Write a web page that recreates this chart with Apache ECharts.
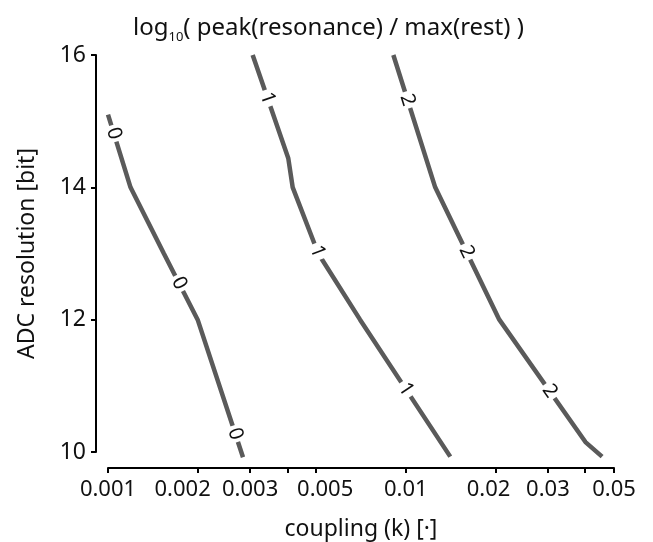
<!DOCTYPE html>
<html>
<head>
<meta charset="utf-8">
<script src="https://cdn.jsdelivr.net/npm/echarts@6/dist/echarts.min.js"></script>
<style>
html, body { margin: 0; padding: 0; background: #fff; }
#chart { width: 653px; height: 542px; }
</style>
</head>
<body>
<div id="chart"></div>
<script>
// contour levels of log10( peak(resonance) / max(rest) )
const levels = ['0', '1', '2'];
// contour vertices: [coupling k, ADC resolution bits]
const contour0 = [[0.001, 15.1], [0.00119, 14], [0.00154, 13], [0.002, 12], [0.00284, 9.92]];
const contour1 = [[0.00306, 16], [0.00403, 14.44], [0.00417, 14], [0.00508, 13], [0.00702, 12], [0.0141, 9.93]];
const contour2 = [[0.00908, 16], [0.01255, 14], [0.0206, 12], [0.0401, 10.15], [0.0456, 9.93]];
// where the inline level labels sit
const labels0 = [[0.00104, 14.81], [0.00177, 12.57], [0.0027, 10.28]];
const labels1 = [[0.00345, 15.35], [0.00505, 13.03], [0.00995, 10.94]];
const labels2 = [[0.0101, 15.32], [0.0161, 13.03], [0.0298, 10.89]];
// axis ticks
const xTicks = [0.001, 0.002, 0.003, 0.004, 0.005, 0.01, 0.02, 0.03, 0.04, 0.05];
const xTickLabels = [0.001, 0.002, 0.003, 0.005, 0.01, 0.02, 0.03, 0.05];

const FONT = '"Noto Sans", sans-serif';
const LINE = '#5a5a5a';
const chart = echarts.init(document.getElementById('chart'));

const contours = [contour0, contour1, contour2];
const labelSets = [labels0, labels1, labels2];

// a few x labels are nudged sideways in the original so they don't collide
function xLabel(v) {
    const s = String(+(+v).toPrecision(3));
    if (s === '0.002') return '{l15|' + s + '}';
    if (s === '0.005') return '{r9|' + s + '}';
    if (s === '0.02') return '{l7|' + s + '}';
    return s;
}

chart.setOption({
    animation: false,
    title: {
        text: '{a|log}{s|10}{a|( peak(resonance) / max(rest) )}',
        left: 128,
        top: 7,
        textStyle: {
            fontWeight: 'normal',
            rich: {
                a: { fontSize: 24, fontFamily: FONT, fontWeight: 'normal', color: '#111', lineHeight: 32 },
                s: { fontSize: 13, fontFamily: FONT, fontWeight: 'normal', color: '#111', lineHeight: 12, verticalAlign: 'bottom' }
            }
        }
    },
    grid: { left: 108, right: 39, top: 55, bottom: 90, containLabel: false, outerBoundsMode: 'none' },
    xAxis: {
        type: 'log',
        logBase: 10,
        min: 0.001,
        max: 0.05,
        offset: 16,
        name: 'coupling (k) [·]',
        nameLocation: 'middle',
        nameGap: 50,
        nameTextStyle: { fontSize: 23, fontFamily: FONT, color: '#111' },
        axisLine: { show: true, lineStyle: { color: '#000', width: 2 } },
        axisTick: { show: true, length: 5, lineStyle: { color: '#000', width: 2 }, customValues: xTicks },
        axisLabel: {
            customValues: xTickLabels,
            fontSize: 22, fontFamily: FONT, color: '#111', margin: 11,
            formatter: xLabel,
            rich: {
                l15: { fontSize: 22, fontFamily: FONT, color: '#111', padding: [0, 30, 0, 0] },
                r9: { fontSize: 22, fontFamily: FONT, color: '#111', padding: [0, 0, 0, 18] },
                l7: { fontSize: 22, fontFamily: FONT, color: '#111', padding: [0, 14, 0, 0] }
            }
        },
        splitLine: { show: false },
        minorTick: { show: false }
    },
    yAxis: {
        type: 'value',
        min: 10,
        max: 16,
        interval: 2,
        offset: 12,
        name: 'ADC resolution [bit]',
        nameLocation: 'middle',
        nameGap: 57,
        nameTextStyle: { fontSize: 23, fontFamily: FONT, color: '#111' },
        axisLine: { show: true, lineStyle: { color: '#000', width: 2 } },
        axisTick: { show: true, length: 5, lineStyle: { color: '#000', width: 2 } },
        axisLabel: { fontSize: 23, fontFamily: FONT, color: '#111', margin: 10 },
        splitLine: { show: false }
    },
    series: contours.map((c, i) => ({
        name: levels[i],
        type: 'line',
        data: c,
        showSymbol: false,
        clip: false,
        lineStyle: { color: LINE, width: 4.5 },
        z: 2
    }))
});

// put each label on its contour, rotated along the local segment, with a white gap under it
function buildMarks(line, marks, text) {
    const pts = line.map(p => chart.convertToPixel({ gridIndex: 0 }, p));
    return marks.map(m => {
        const q = chart.convertToPixel({ gridIndex: 0 }, m);
        let best = null;
        for (let i = 0; i < pts.length - 1; i++) {
            const a = pts[i], b = pts[i + 1];
            const dx = b[0] - a[0], dy = b[1] - a[1];
            let t = ((q[0] - a[0]) * dx + (q[1] - a[1]) * dy) / (dx * dx + dy * dy);
            t = Math.max(0, Math.min(1, t));
            const cx = a[0] + t * dx, cy = a[1] + t * dy;
            const d = Math.hypot(q[0] - cx, q[1] - cy);
            if (!best || d < best.d) best = { d: d, cx: cx, cy: cy, ang: Math.atan2(dy, dx) * 180 / Math.PI };
        }
        const rot = -best.ang;
        return {
            coord: chart.convertFromPixel({ gridIndex: 0 }, [best.cx, best.cy]),
            value: text,
            symbolRotate: rot,
            label: { rotate: rot }
        };
    });
}

chart.setOption({
    series: contours.map((c, i) => ({
        markPoint: {
            symbol: 'rect',
            symbolSize: [17, 10],
            itemStyle: { color: '#fff' },
            label: {
                show: true,
                position: 'inside',
                formatter: '{c}',
                fontSize: 20,
                fontFamily: FONT,
                color: '#111'
            },
            data: buildMarks(c, labelSets[i], levels[i])
        }
    }))
});
</script>
</body>
</html>
